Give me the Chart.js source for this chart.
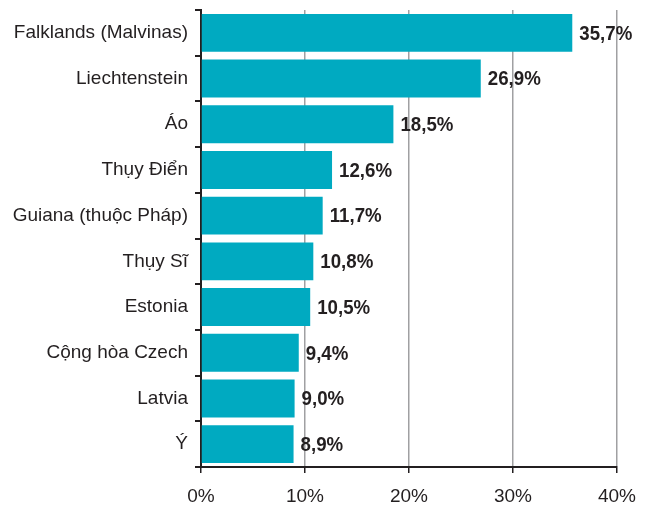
<!DOCTYPE html>
<html>
<head>
<meta charset="utf-8">
<script src="https://cdn.jsdelivr.net/npm/chart.js@4"></script>
<style>
  html, body { margin: 0; padding: 0; background: #fff; }
  #wrap { width: 650px; height: 510px; }
</style>
</head>
<body>
<div id="wrap"><canvas id="chart" width="650" height="510"></canvas></div>
<script>
// dữ liệu
const countries = ['Falklands (Malvinas)', 'Liechtenstein', 'Áo', 'Thụy Điển', 'Guiana (thuộc Pháp)',
  'Thụy Sĩ', 'Estonia', 'Cộng hòa Czech', 'Latvia', 'Ý'];
const shares = [35.7, 26.9, 18.5, 12.6, 11.7, 10.8, 10.5, 9.4, 9.0, 8.9];
const xTicks = [0, 10, 20, 30, 40];

const FONT = "'Liberation Sans', Arial, sans-serif";
const DARK = '#231f20';

// nhãn giá trị ở cuối cột (chữ đậm, hơi hẹp)
const valueLabels = {
  id: 'valueLabels',
  afterDatasetsDraw(chart) {
    const ctx = chart.ctx;
    const meta = chart.getDatasetMeta(0);
    ctx.save();
    ctx.font = 'bold 21px ' + FONT;
    ctx.fillStyle = DARK;
    ctx.textAlign = 'left';
    ctx.textBaseline = 'middle';
    meta.data.forEach((bar, i) => {
      const txt = shares[i].toFixed(1).replace('.', ',') + '%';
      ctx.save();
      ctx.translate(bar.x + 7, bar.y + 1);
      ctx.scale(0.89, 1);
      ctx.fillText(txt, 0, 0);
      ctx.restore();
    });
    ctx.restore();
  }
};

new Chart(document.getElementById('chart'), {
  type: 'bar',
  data: {
    labels: countries,
    datasets: [{
      data: shares,
      backgroundColor: '#00aac1',
      barPercentage: 0.83,
      categoryPercentage: 1
    }]
  },
  options: {
    indexAxis: 'y',
    responsive: false,
    animation: false,
    layout: { padding: { top: 10, right: 33, bottom: 0, left: 0 } },
    plugins: { legend: { display: false }, tooltip: { enabled: false } },
    scales: {
      x: {
        min: 0, max: 40,
        afterBuildTicks(scale) { scale.ticks = xTicks.map(v => ({ value: v })); },
        afterFit(scale) { scale.height = 43; },
        grid: { color: '#a0a0a2', lineWidth: 1.5, tickColor: DARK, tickLength: 6, drawTicks: true },
        border: { display: true, color: DARK, width: 2 },
        ticks: {
          color: DARK, padding: 12,
          font: { family: FONT, size: 19 },
          callback: v => v + '%'
        }
      },
      y: {
        afterFit(scale) { scale.width = 201; scale.paddingTop = 0; scale.paddingBottom = 0; },
        grid: { drawOnChartArea: false, offset: true, color: DARK, lineWidth: 2, tickLength: 6 },
        border: { display: true, color: DARK, width: 2 },
        ticks: {
          color: DARK, padding: 7,
          font: { family: FONT, size: 19 }
        }
      }
    }
  },
  plugins: [valueLabels]
});
</script>
</body>
</html>
